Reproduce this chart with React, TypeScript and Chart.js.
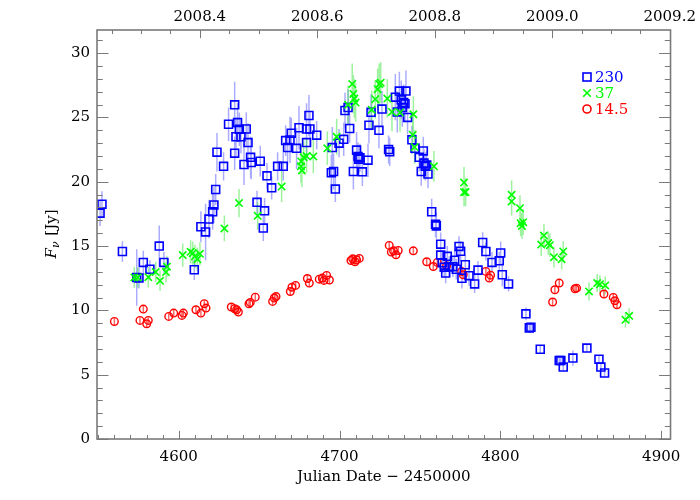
import React, { useEffect, useRef } from 'react';
import { Chart, registerables } from 'chart.js';

Chart.register(...registerables);

// ---------- axis ranges & tick labels ----------
const X_MIN = 4549.2;
const X_MAX = 4905.8;
const Y_MIN = 0;
const Y_MAX = 31.8;
const X_TICKS = [4600, 4700, 4800, 4900];
const Y_TICKS = [0, 5, 10, 15, 20, 25, 30];
const YEAR_TICKS = [2008.4, 2008.6, 2008.8, 2009.0, 2009.2];
const LEGEND_LABELS = ['230', '37', '14.5'];

// ---------- 230 GHz ----------
const jd230 = [
  4551.1, 4552.3, 4565.0, 4573.9, 4575.3, 4578.0, 4582.1, 4587.9, 4590.8, 4609.7,
  4613.8, 4616.7, 4618.8, 4621.1, 4621.9, 4623.0, 4623.8, 4627.9, 4631.0, 4634.8,
  4634.8, 4635.6, 4636.6, 4637.7, 4638.7, 4640.6, 4642.0, 4643.1, 4644.7, 4645.1,
  4648.7, 4650.7, 4652.6, 4653.4, 4654.9, 4657.8, 4661.5, 4665.0, 4666.5, 4667.7,
  4669.2, 4670.0, 4673.3, 4674.8, 4679.5, 4679.5, 4681.0, 4681.6, 4685.8, 4694.9,
  4695.5, 4696.3, 4697.4, 4699.7, 4702.6, 4703.4, 4705.3, 4706.3, 4708.6, 4710.6,
  4711.5, 4711.9, 4712.7, 4714.2, 4717.7, 4718.3, 4719.6, 4724.5, 4726.4, 4730.5,
  4731.2, 4734.7, 4735.9, 4737.2, 4738.4, 4739.0, 4739.9, 4740.7, 4741.3, 4742.3,
  4745.0, 4746.9, 4749.6, 4750.8, 4752.1, 4752.5, 4753.3, 4754.2, 4755.0, 4757.3,
  4759.7, 4760.2, 4762.9, 4762.9, 4763.9, 4765.1, 4766.0, 4767.0, 4768.2, 4770.5,
  4771.6, 4772.6, 4774.3, 4775.3, 4776.1, 4778.2, 4780.5, 4784.0, 4786.1, 4789.0,
  4791.0, 4794.8, 4799.3, 4800.2, 4801.2, 4805.1, 4815.9, 4818.0, 4819.0, 4824.8,
  4836.6, 4837.6, 4839.1, 4845.1, 4853.8, 4861.3, 4862.5, 4864.8,
];
const flux230 = [
  17.56, 18.26, 14.58, 12.56, 12.51, 13.73, 13.20, 15.00, 13.73, 13.16,
  16.50, 16.10, 17.10, 17.67, 18.20, 19.40, 22.30, 21.20, 24.47, 25.98,
  22.22, 23.50, 24.60, 24.08, 23.50, 21.34, 24.10, 23.05, 21.90, 21.50,
  18.40, 21.60, 16.40, 17.74, 20.46, 19.53, 21.20, 21.20, 23.20, 22.66,
  23.25, 23.77, 22.60, 24.20, 24.10, 23.05, 25.15, 24.10, 23.62, 20.70,
  22.66, 20.80, 19.43, 23.00, 23.30, 25.54, 25.77, 24.14, 20.80, 22.46,
  21.96, 21.76, 21.86, 20.77, 21.68, 24.40, 25.40, 24.00, 25.65, 22.50,
  22.33, 26.58, 25.43, 27.05, 26.37, 25.77, 26.16, 26.06, 27.05, 25.00,
  23.26, 22.60, 21.90, 20.80, 22.40, 21.45, 21.20, 21.30, 20.60, 17.67,
  16.70, 16.57, 15.15, 14.30, 13.70, 13.36, 12.90, 14.20, 13.40, 13.40,
  13.90, 13.20, 14.97, 14.60, 12.50, 13.55, 12.70, 12.06, 13.13, 15.28,
  14.58, 13.73, 13.86, 14.46, 12.77, 12.06, 9.73, 8.64, 8.69, 6.98,
  6.10, 6.10, 5.59, 6.29, 7.07, 6.20, 5.59, 5.13,
];
const err230 = [
  1.0, 1.0, 0.8, 2.2, 0.8, 0.9, 0.7, 1.6, 0.8, 0.8,
  1.2, 2.2, 1.5, 1.4, 1.4, 1.2, 1.5, 1.1, 1.3, 1.8,
  1.3, 1.5, 1.5, 1.3, 1.3, 1.6, 1.3, 1.5, 1.6, 1.3,
  0.9, 1.2, 1.0, 1.0, 1.0, 0.9, 1.1, 1.1, 1.2, 1.4,
  1.8, 1.2, 1.6, 1.7, 2.0, 1.4, 1.6, 1.3, 1.1, 1.4,
  1.6, 1.4, 1.0, 1.1, 1.3, 1.4, 1.4, 1.1, 1.4, 1.4,
  1.1, 1.1, 1.1, 1.1, 1.3, 1.4, 1.4, 1.4, 1.4, 1.1,
  1.1, 1.8, 1.6, 1.5, 1.5, 1.5, 1.4, 1.4, 1.6, 1.3,
  1.1, 1.1, 1.1, 1.1, 1.1, 1.1, 1.1, 1.1, 1.1, 1.0,
  1.0, 1.0, 0.9, 0.9, 0.8, 0.8, 0.8, 0.8, 0.8, 0.8,
  0.8, 0.8, 0.8, 0.8, 0.8, 0.8, 0.8, 0.7, 0.7, 0.8,
  0.7, 0.8, 0.7, 0.9, 0.9, 0.6, 0.5, 0.4, 0.4, 0.3,
  0.3, 0.3, 0.3, 0.6, 0.3, 0.3, 0.3, 0.3,
];

// ---------- 37 GHz ----------
const jd37 = [
  4572.4, 4574.5, 4581.1, 4585.7, 4588.4, 4592.1, 4592.7, 4602.5, 4607.4, 4608.7,
  4610.1, 4611.6, 4613.2, 4628.4, 4637.5, 4649.1, 4664.0, 4676.0, 4676.2, 4676.6,
  4677.7, 4679.5, 4683.7, 4692.4, 4698.2, 4705.3, 4707.9, 4708.6, 4709.2, 4710.0,
  4720.0, 4722.2, 4723.7, 4724.7, 4725.6, 4729.7, 4732.6, 4737.6, 4745.5, 4745.9,
  4746.7, 4758.7, 4777.4, 4777.4, 4778.4, 4807.0, 4807.0, 4812.2, 4812.6, 4813.4,
  4814.2, 4825.4, 4827.1, 4829.8, 4830.8, 4833.3, 4838.1, 4839.1, 4855.1, 4860.2,
  4861.9, 4865.2, 4877.8, 4880.1,
];
const flux37 = [
  12.56, 12.56, 12.58, 12.98, 12.30, 12.98, 13.40, 14.30, 14.55, 14.45,
  14.20, 13.98, 14.40, 16.37, 18.34, 17.35, 19.63, 21.20, 21.58, 20.88,
  21.90, 22.00, 21.97, 22.60, 23.50, 25.98, 27.60, 26.83, 26.47, 26.16,
  25.60, 26.42, 27.20, 27.60, 27.70, 26.47, 25.43, 25.38, 23.65, 25.25,
  22.70, 21.20, 19.94, 19.19, 19.20, 18.99, 18.47, 17.95, 16.78, 16.57,
  16.86, 15.12, 15.82, 15.23, 15.07, 14.14, 13.98, 14.58, 11.47, 12.12,
  12.04, 11.94, 9.27, 9.58,
];
const err37 = [
  0.8, 0.8, 0.8, 0.8, 0.8, 0.8, 0.8, 0.9, 0.9, 0.9,
  0.9, 0.9, 0.9, 1.0, 1.1, 1.1, 1.2, 1.3, 1.3, 1.3,
  1.3, 1.3, 1.3, 1.3, 1.4, 1.5, 1.6, 1.5, 1.5, 1.5,
  1.5, 1.5, 1.6, 1.6, 1.6, 1.5, 1.5, 1.5, 1.4, 1.4,
  1.3, 1.2, 1.2, 1.1, 1.1, 1.1, 1.1, 1.0, 1.0, 1.0,
  1.0, 0.9, 0.9, 0.9, 0.9, 0.8, 0.8, 0.8, 0.7, 0.7,
  0.7, 0.7, 0.6, 0.6,
];

// ---------- 14.5 GHz ----------
const jd14 = [
  4560.0, 4575.9, 4578.0, 4580.1, 4581.1, 4593.8, 4596.9, 4602.0, 4602.9, 4610.7,
  4613.8, 4615.9, 4617.0, 4632.7, 4634.8, 4636.0, 4637.1, 4643.7, 4644.5, 4647.6,
  4658.4, 4659.4, 4660.5, 4669.4, 4670.4, 4672.7, 4680.0, 4681.2, 4687.4, 4689.3,
  4690.3, 4692.0, 4693.7, 4707.1, 4708.2, 4709.6, 4710.6, 4712.3, 4730.9, 4732.2,
  4733.6, 4735.1, 4736.5, 4745.9, 4754.2, 4758.3, 4760.8, 4766.6, 4775.9, 4776.9,
  4791.0, 4793.1, 4793.9, 4832.5, 4833.9, 4836.6, 4846.4, 4847.4, 4864.4, 4870.2,
  4871.2, 4872.5,
];
const flux14 = [
  9.14, 9.22, 10.10, 8.96, 9.22, 9.53, 9.79, 9.61, 9.79, 10.05,
  9.79, 10.52, 10.18, 10.26, 10.13, 10.05, 9.87, 10.52, 10.62, 11.03,
  10.70, 10.96, 11.08, 11.47, 11.80, 11.94, 12.48, 12.12, 12.43, 12.51,
  12.33, 12.72, 12.36, 13.88, 14.01, 13.78, 13.93, 14.04, 15.05, 14.53,
  14.63, 14.32, 14.66, 14.63, 13.78, 13.41, 13.73, 13.47, 13.03, 12.77,
  13.03, 12.51, 12.74, 10.65, 11.60, 12.12, 11.68, 11.73, 11.27, 11.01,
  10.75, 10.44,
];
const err14 = [
  0.25, 0.25, 0.25, 0.25, 0.25, 0.25, 0.25, 0.25, 0.25, 0.25,
  0.25, 0.25, 0.25, 0.25, 0.25, 0.25, 0.25, 0.25, 0.25, 0.25,
  0.25, 0.25, 0.25, 0.3, 0.3, 0.3, 0.3, 0.3, 0.3, 0.3,
  0.3, 0.3, 0.3, 0.3, 0.3, 0.3, 0.3, 0.3, 0.3, 0.3,
  0.3, 0.3, 0.3, 0.3, 0.3, 0.3, 0.3, 0.3, 0.3, 0.3,
  0.3, 0.3, 0.3, 0.3, 0.3, 0.3, 0.3, 0.3, 0.3, 0.3,
  0.3, 0.3,
];

const BLUE = 'rgb(0,0,255)';
const GREEN = 'rgb(0,255,0)';
const RED = 'rgb(255,0,0)';
const AXIS_COLOR = '#7a7a7a';
const FONT_FAMILY = '"DejaVu Serif", serif';

const SERIES = [
  { jd: jd230, flux: flux230, err: err230, errColor: 'rgba(70,70,255,0.45)' },
  { jd: jd37, flux: flux37, err: err37, errColor: 'rgba(60,230,60,0.5)' },
  { jd: jd14, flux: flux14, err: err14, errColor: 'rgba(255,0,0,0.6)' },
];

const toYear = (jd: number) => 2000 + (jd - 1545) / 365.25;

const errorBarPlugin = {
  id: 'errorBars',
  beforeDatasetsDraw(chart: any) {
    const { ctx, chartArea: a } = chart;
    const xs = chart.scales.x;
    const ys = chart.scales.y;
    ctx.save();
    ctx.beginPath();
    ctx.rect(a.left, a.top, a.right - a.left, a.bottom - a.top);
    ctx.clip();
    SERIES.forEach((s) => {
      ctx.strokeStyle = s.errColor;
      ctx.lineWidth = 1.5;
      ctx.beginPath();
      s.jd.forEach((jd, i) => {
        const px = xs.getPixelForValue(jd);
        ctx.moveTo(px, ys.getPixelForValue(s.flux[i] - s.err[i]));
        ctx.lineTo(px, ys.getPixelForValue(s.flux[i] + s.err[i]));
      });
      ctx.stroke();
    });
    ctx.restore();
  },
};

const framePlugin = {
  id: 'idlFrame',
  afterDraw(chart: any) {
    const { ctx, chartArea: a } = chart;
    const xs = chart.scales.x;
    const ys = chart.scales.y;
    const xt = chart.scales.xt;
    const h = a.bottom - a.top;
    const w = a.right - a.left;
    const xMaj = 0.02 * h;
    const yMaj = 0.02 * w;
    ctx.save();
    ctx.strokeStyle = AXIS_COLOR;
    ctx.lineWidth = 1;
    ctx.beginPath();
    // y ticks (left & right)
    for (let v = 0; v <= 31; v++) {
      const py = Math.round(ys.getPixelForValue(v)) + 0.5;
      const len = v % 5 === 0 ? yMaj : yMaj / 2;
      ctx.moveTo(a.left, py);
      ctx.lineTo(a.left + len, py);
      ctx.moveTo(a.right, py);
      ctx.lineTo(a.right - len, py);
    }
    // bottom ticks
    for (let v = 4550; v <= 4905; v += 10) {
      const px = Math.round(xs.getPixelForValue(v)) + 0.5;
      const len = v % 100 === 0 ? xMaj : xMaj / 2;
      ctx.moveTo(px, a.bottom);
      ctx.lineTo(px, a.bottom - len);
    }
    // top ticks (years)
    for (let k = 0; k <= 19; k++) {
      const yr = 2008.25 + k * 0.05;
      const px = Math.round(xt.getPixelForValue(yr)) + 0.5;
      const isMaj = k % 4 === 3;
      const len = isMaj ? xMaj : xMaj / 2;
      if (px < a.left || px > a.right + 1) continue;
      ctx.moveTo(px, a.top);
      ctx.lineTo(px, a.top + len);
    }
    ctx.stroke();
    // frame
    ctx.lineWidth = 1.6;
    ctx.strokeRect(a.left, a.top, w, h);

    // x title
    ctx.fillStyle = '#000';
    ctx.font = `15px ${FONT_FAMILY}`;
    ctx.textAlign = 'center';
    ctx.textBaseline = 'middle';
    ctx.fillText('Julian Date \u2212 2450000', (a.left + a.right) / 2, 477);

    // y title  F_nu [Jy]
    ctx.save();
    ctx.translate(52, 234);
    ctx.rotate(-Math.PI / 2);
    ctx.textAlign = 'left';
    ctx.textBaseline = 'middle';
    const fF = `italic 15px ${FONT_FAMILY}`;
    const fNu = `italic 11px ${FONT_FAMILY}`;
    const fJy = `15px ${FONT_FAMILY}`;
    ctx.font = fF;
    const wF = ctx.measureText('F').width;
    ctx.font = fNu;
    const wNu = ctx.measureText('\u03bd').width;
    ctx.font = fJy;
    const wJy = ctx.measureText(' [Jy]').width;
    let sx = -(wF + wNu + 1 + wJy) / 2;
    ctx.font = fF;
    ctx.fillText('F', sx, 0);
    sx += wF;
    ctx.font = fNu;
    ctx.fillText('\u03bd', sx, 4);
    sx += wNu + 1;
    ctx.font = fJy;
    ctx.fillText(' [Jy]', sx, 0);
    ctx.restore();

    // legend
    const lx = 587;
    const ly = [77, 93, 109];
    const cols = [BLUE, GREEN, RED];
    ctx.lineWidth = 1.6;
    // square
    ctx.strokeStyle = BLUE;
    ctx.strokeRect(lx - 4, ly[0] - 4, 8, 8);
    // cross
    ctx.strokeStyle = GREEN;
    ctx.beginPath();
    ctx.moveTo(lx - 3.8, ly[1] - 3.8);
    ctx.lineTo(lx + 3.8, ly[1] + 3.8);
    ctx.moveTo(lx + 3.8, ly[1] - 3.8);
    ctx.lineTo(lx - 3.8, ly[1] + 3.8);
    ctx.stroke();
    // circle
    ctx.strokeStyle = RED;
    ctx.beginPath();
    ctx.arc(lx, ly[2], 4, 0, Math.PI * 2);
    ctx.stroke();
    ctx.font = `15px ${FONT_FAMILY}`;
    ctx.textAlign = 'left';
    ctx.textBaseline = 'middle';
    LEGEND_LABELS.forEach((t, i) => {
      ctx.fillStyle = cols[i];
      ctx.fillText(t, 595, ly[i] + 1);
    });
    ctx.restore();
  },
};

export default function App() {
  const canvasRef = useRef<HTMLCanvasElement | null>(null);

  useEffect(() => {
    if (!canvasRef.current) return;
    const mk = (jd: number[], f: number[]) => jd.map((x, i) => ({ x, y: f[i] }));
    const tickFont = { family: FONT_FAMILY, size: 15 };
    const chart = new Chart(canvasRef.current, {
      type: 'scatter',
      data: {
        datasets: [
          {
            label: '230',
            data: mk(jd230, flux230),
            pointStyle: 'rect',
            pointRadius: 5.6,
            borderColor: BLUE,
            backgroundColor: 'rgba(0,0,0,0)',
            borderWidth: 1.6,
            order: 2,
          },
          {
            label: '37',
            data: mk(jd37, flux37),
            pointStyle: 'crossRot',
            pointRadius: 5.2,
            borderColor: GREEN,
            backgroundColor: GREEN,
            borderWidth: 1.6,
            order: 1,
          },
          {
            label: '14.5',
            data: mk(jd14, flux14),
            pointStyle: 'circle',
            pointRadius: 3.8,
            borderColor: RED,
            backgroundColor: 'rgba(0,0,0,0)',
            borderWidth: 1.4,
            order: 3,
          },
        ],
      },
      options: {
        animation: false,
        responsive: false,
        devicePixelRatio: 1,
        layout: { padding: { left: 0, right: 29, top: 0, bottom: 0 } },
        plugins: {
          legend: { display: false },
          tooltip: { enabled: false },
        },
        scales: {
          x: {
            type: 'linear',
            position: 'bottom',
            min: X_MIN,
            max: X_MAX,
            grid: { display: false, drawTicks: false },
            border: { display: false },
            afterBuildTicks: (s: any) => {
              s.ticks = X_TICKS.map((v) => ({ value: v }));
            },
            afterFit: (s: any) => {
              s.height = 61;
            },
            ticks: {
              font: tickFont,
              color: '#000',
              padding: 9,
              maxRotation: 0,
              autoSkip: false,
              callback: (v: any) => String(v),
            },
          },
          xt: {
            type: 'linear',
            position: 'top',
            min: toYear(X_MIN),
            max: toYear(X_MAX),
            grid: { display: false, drawTicks: false },
            border: { display: false },
            afterBuildTicks: (s: any) => {
              s.ticks = YEAR_TICKS.map((v) => ({ value: v }));
            },
            afterFit: (s: any) => {
              s.height = 30;
            },
            ticks: {
              font: tickFont,
              color: '#000',
              padding: 4,
              maxRotation: 0,
              autoSkip: false,
              callback: (v: any) => Number(v).toFixed(1),
            },
          },
          y: {
            type: 'linear',
            position: 'left',
            min: Y_MIN,
            max: Y_MAX,
            grid: { display: false, drawTicks: false },
            border: { display: false },
            afterBuildTicks: (s: any) => {
              s.ticks = Y_TICKS.map((v) => ({ value: v }));
            },
            afterFit: (s: any) => {
              s.width = 97;
            },
            ticks: {
              font: tickFont,
              color: '#000',
              padding: 7,
              autoSkip: false,
              callback: (v: any) => String(v),
            },
          },
        },
      } as any,
      plugins: [errorBarPlugin, framePlugin],
    });
    return () => chart.destroy();
  }, []);

  return (
    <div style={{ position: 'fixed', left: 0, top: 0, width: 700, height: 500, background: '#fff' }}>
      <canvas ref={canvasRef} width={700} height={500} style={{ display: 'block' }} />
    </div>
  );
}
